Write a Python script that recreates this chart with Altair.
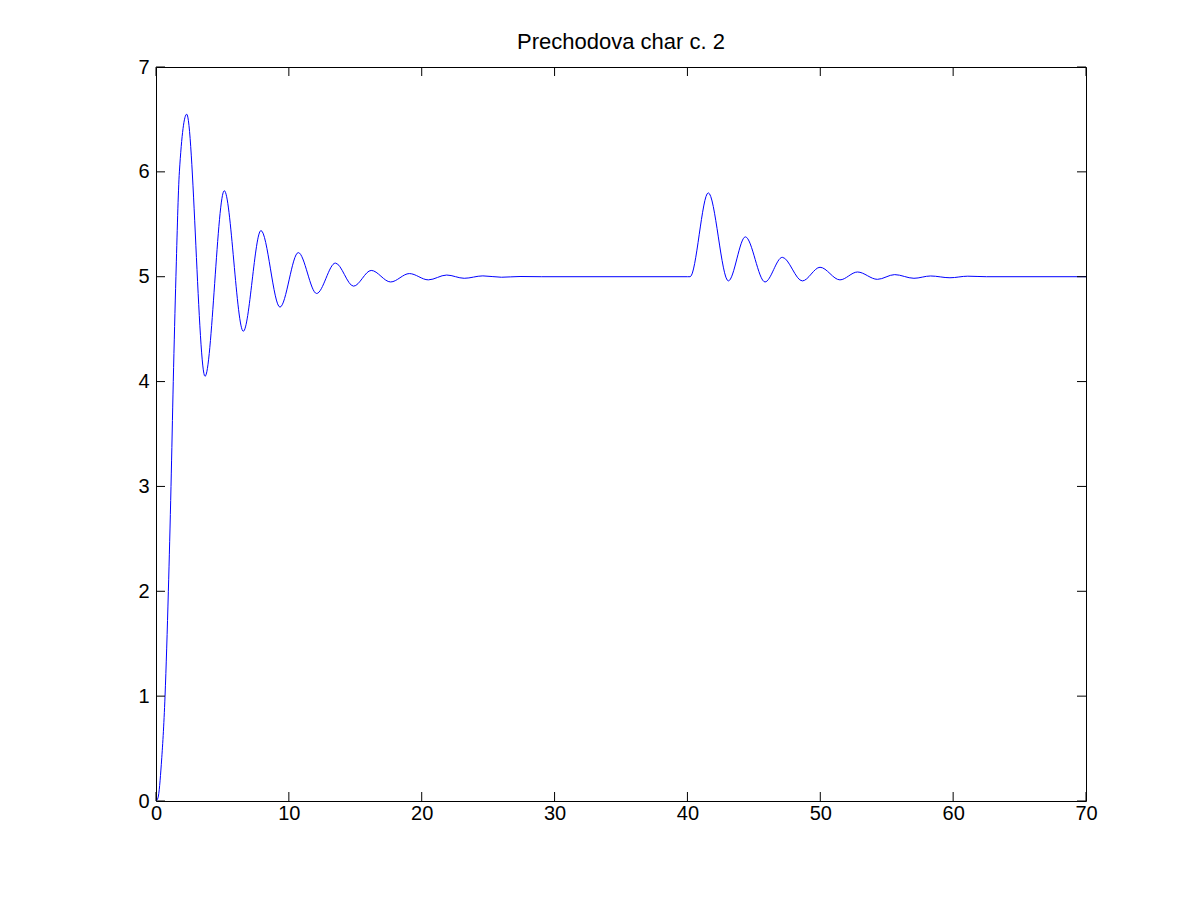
import altair as alt
import pandas as pd

# Curve (time, output)
t_vals = [0, 0.15, 0.4, 0.68, 0.93, 1.13, 1.30, 1.50, 1.76, 2.31,
          3.69, 5.14, 6.57, 7.90, 9.33, 10.71, 12.09, 13.50, 14.87, 16.20,
          17.66, 19.07, 20.50, 21.88, 23.20, 24.60, 26.0, 27.4, 29.0, 40.0,
          40.2, 41.57, 43.08, 44.36, 45.84, 47.14, 48.65, 49.98, 51.48, 52.80,
          54.30, 55.60, 57.05, 58.3, 59.76, 61.1, 62.5, 70.0]
y_vals = [0, 0.03, 0.35, 1.0, 2.0, 3.0, 4.0, 5.0, 6.0, 6.55,
          4.05, 5.82, 4.48, 5.44, 4.71, 5.23, 4.84, 5.13, 4.91, 5.06,
          4.95, 5.03, 4.97, 5.016, 4.985, 5.008, 4.995, 5.002, 5.0, 5.0,
          5.0, 5.80, 4.96, 5.38, 4.95, 5.185, 4.96, 5.09, 4.97, 5.045,
          4.975, 5.02, 4.985, 5.007, 4.99, 5.005, 5.0, 5.0]

x_ticks = [0, 10, 20, 30, 40, 50, 60, 70]
y_ticks = [0, 1, 2, 3, 4, 5, 6, 7]

W, H = 930, 734
TL = 9
FONT = "Liberation Sans"

df = pd.DataFrame({"t": t_vals, "y": y_vals})
xt = pd.DataFrame({"x": x_ticks})
yt = pd.DataFrame({"y": y_ticks})

xs = alt.Scale(domain=[0, 70], nice=False, zero=False)
ys = alt.Scale(domain=[0, 7], nice=False, zero=False)

line = alt.Chart(df).mark_line(color="#0000ff", strokeWidth=1, interpolate="monotone", clip=True).encode(
    x=alt.X("t:Q", scale=xs, axis=alt.Axis(values=x_ticks, format="d", title=None, domain=False,
                                          ticks=False, grid=False, labelFont=FONT, labelFontSize=20,
                                          labelColor="black", labelPadding=2, labelFlush=False,
                                          labelOverlap=False)),
    y=alt.Y("y:Q", scale=ys, axis=alt.Axis(values=y_ticks, format="d", title=None, domain=False,
                                          ticks=False, grid=False, labelFont=FONT, labelFontSize=20,
                                          labelColor="black", labelPadding=7, labelFlush=False,
                                          labelOverlap=False)),
)

left_ticks = alt.Chart(yt).mark_rule(color="black", strokeWidth=1).encode(
    y=alt.Y("y:Q", scale=ys), x=alt.value(0), x2=alt.value(TL))
right_ticks = alt.Chart(yt).mark_rule(color="black", strokeWidth=1).encode(
    y=alt.Y("y:Q", scale=ys), x=alt.value(W - TL), x2=alt.value(W))
bottom_ticks = alt.Chart(xt).mark_rule(color="black", strokeWidth=1).encode(
    x=alt.X("x:Q", scale=xs), y=alt.value(H - TL), y2=alt.value(H))
top_ticks = alt.Chart(xt).mark_rule(color="black", strokeWidth=1).encode(
    x=alt.X("x:Q", scale=xs), y=alt.value(0), y2=alt.value(TL))

chart = alt.layer(line, left_ticks, right_ticks, bottom_ticks, top_ticks).properties(
    width=W, height=H,
    title=alt.TitleParams("Prechodova char c. 2", font=FONT, fontSize=22, fontWeight="normal",
                          color="black", anchor="middle", offset=3),
    autosize=alt.AutoSizeParams(type="none"),
    padding={"left": 148, "top": 59, "right": 106, "bottom": 91},
    background="white",
).configure_view(stroke="black", strokeWidth=1, strokeOpacity=1)

chart.save("out.html", embed_options={"renderer": "svg", "actions": False})
